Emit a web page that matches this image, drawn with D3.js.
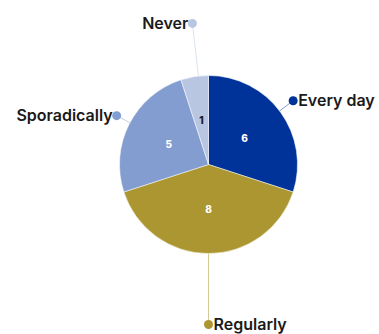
<!DOCTYPE html>
<html>
<head>
<meta charset="utf-8">
<script src="https://d3js.org/d3.v7.min.js"></script>
<style>
  body { margin: 0; background: #fff; }
  svg { display: block; font-family: Inter, "Open Sans", sans-serif; }
</style>
</head>
<body>
<div id="chart"></div>
<script>
// answers to the question, clockwise from 12 o'clock
const categories = ["Every day", "Regularly", "Sporadically", "Never"];
const counts = [6, 8, 5, 1];
const colors = ["#003399", "#ab9632", "#849dd0", "#b8c6e2"];
// how far out each outside label sits (px from centre) and small angle nudge (deg)
const labelDistance = [106, 160, 104, 142];
const labelNudge = [-1, 0, 1, 2.5];

const width = 379, height = 334;
const cx = 208.5, cy = 164.5, radius = 89;

const svg = d3.select("#chart").append("svg")
  .attr("width", width)
  .attr("height", height);

const g = svg.append("g").attr("transform", `translate(${cx},${cy})`);

const pie = d3.pie().sort(null).value(d => d.value);
const arcs = pie(categories.map((c, i) => ({ name: c, value: counts[i], i })));

const arc = d3.arc().innerRadius(0).outerRadius(radius);
const inner = d3.arc().innerRadius(radius * 0.5).outerRadius(radius * 0.5);

const mid = d => (d.startAngle + d.endAngle) / 2;
const labelAngle = d => mid(d) + labelNudge[d.data.i] * Math.PI / 180;
const polar = (a, r) => [Math.sin(a) * r, -Math.cos(a) * r];

// connector lines first so slices sit on top of them
g.selectAll(".connector")
  .data(arcs)
  .enter()
  .append("line")
  .attr("class", "connector")
  .attr("x1", d => polar(labelAngle(d), radius)[0])
  .attr("y1", d => polar(labelAngle(d), radius)[1])
  .attr("x2", d => polar(labelAngle(d), labelDistance[d.data.i])[0])
  .attr("y2", d => polar(labelAngle(d), labelDistance[d.data.i])[1])
  .attr("stroke", d => colors[d.data.i])
  .attr("stroke-opacity", 0.5)
  .attr("stroke-width", 1);

g.selectAll(".slice")
  .data(arcs)
  .enter()
  .append("path")
  .attr("class", "slice")
  .attr("d", arc)
  .attr("fill", d => colors[d.data.i])
  .attr("stroke", "#fff")
  .attr("stroke-width", 0.5);

// values inside
g.selectAll(".value")
  .data(arcs)
  .enter()
  .append("text")
  .attr("class", "value")
  .attr("transform", d => `translate(${inner.centroid(d)})`)
  .attr("text-anchor", "middle")
  .attr("dy", "0.35em")
  .style("font-size", "10px")
  .style("font-weight", "800")
  .style("fill", d => d.data.i === 3 ? "#1a1a1a" : "#fff")
  .text(d => d.data.value);

// dots + labels outside
const lbl = g.selectAll(".lbl")
  .data(arcs)
  .enter()
  .append("g")
  .attr("class", "lbl")
  .attr("transform", d => `translate(${polar(labelAngle(d), labelDistance[d.data.i])})`);

lbl.append("circle")
  .attr("r", 4.5)
  .attr("fill", d => colors[d.data.i]);

lbl.append("text")
  .attr("x", d => mid(d) > Math.PI * 1.02 ? -4 : 5)
  .attr("dy", "0.36em")
  .attr("text-anchor", d => mid(d) > Math.PI * 1.02 ? "end" : "start")
  .style("font-size", "16px")
  .style("font-weight", "600")
  .style("fill", "#1a1a1a")
  .text(d => d.data.name);
</script>
</body>
</html>
